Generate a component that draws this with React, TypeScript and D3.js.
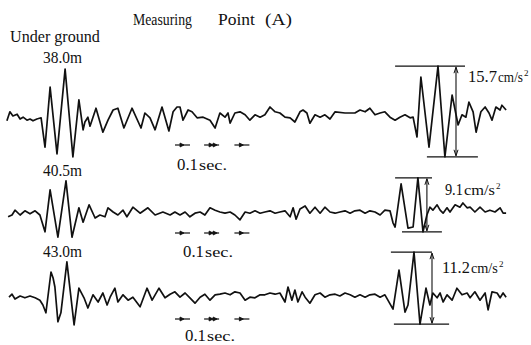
import * as d3 from 'd3';
import { useLayoutEffect, useRef } from 'react';

// time in ms, acceleration in gal (cm/s^2)
const trace1: [number, number][] = [
  [23, -0.8], [33, 0.7], [43, 0], [57, 0.3], [67, -0.5], [77, -0.2], [90, -0.7], [100, -0.5],
  [110, -0.8], [123, -0.5], [137, -0.3], [150, -5.2], [167, 4.8], [190, -6.3], [217, 7.8],
  [243, -6.8], [263, 2.7], [277, -2.3], [283, -1.0], [293, -0.2], [300, -1.7], [320, 1.3],
  [343, -2.7], [360, -0.7], [377, 1.0], [393, 1.3], [413, -2.0], [440, 1.3], [470, -2.0],
  [483, 0.5], [500, -0.3], [517, -2.3], [540, 1.5], [563, -2.5], [577, 0.7], [590, 1.5],
  [600, 1.5], [610, -0.7], [627, 1.0], [640, 0.7], [657, -0.3], [677, -0.2], [700, -0.7],
  [717, -2.0], [733, 0.5], [750, -0.2], [760, 0.5], [767, -1.2], [783, 0.5], [800, 0.7],
  [817, 0.2], [833, -0.7], [850, 0.2], [867, -0.2], [883, 0.2], [900, 1.5], [917, 0.7],
  [933, 0.5], [950, -0.2], [967, -0.3], [983, -1.0], [1000, 0.7], [1010, 1.0], [1023, 0.5],
  [1033, -1.2], [1050, 0.2], [1067, -0.2], [1083, 0.2], [1100, -0.5], [1117, 0.7], [1150, 0.5],
  [1183, 0.5], [1200, 1.0], [1217, 0.7], [1233, 1.3], [1250, 0.2], [1267, 0.5], [1283, 0.7],
  [1300, -0.2], [1317, -0.7], [1333, -0.2], [1350, 0.2], [1367, -0.3], [1377, -0.2],
  [1390, -3.5], [1403, 6.5], [1430, -5.2], [1460, 8.3], [1483, -6.8], [1507, 3.5], [1527, -1.5],
  [1540, 0.2], [1553, -0.2], [1563, 2.3], [1577, 0.7], [1587, -2.7], [1603, 0.7], [1617, 1.5],
  [1630, 0.5], [1640, -0.7], [1653, 1.5], [1667, 1.0], [1673, 1.8], [1687, 1.0],
];

const trace2: [number, number][] = [
  [27, -0.8], [40, -0.5], [50, 0.3], [67, -0.5], [83, 0.2], [100, -0.3], [117, 0.2], [133, -0.5],
  [150, -3.3], [167, 3.7], [193, -4.2], [220, 5.2], [240, -4.2], [263, 0.7], [277, -1.7],
  [297, 1.2], [317, -1.0], [333, -0.5], [350, -0.8], [360, 0.7], [377, 0], [393, -0.5],
  [410, 0.3], [423, -0.8], [443, 0.8], [467, -0.2], [493, 0.7], [517, -0.5], [543, 0],
  [567, -0.5], [583, 0], [600, -0.5], [617, 0], [633, -0.8], [650, -0.2], [667, 0], [683, -0.5],
  [700, 0.7], [717, 0.3], [733, 0], [750, -0.2], [767, 0], [783, -0.5], [800, -1.3], [817, 0],
  [833, -0.2], [850, 0.2], [867, -0.2], [883, 0], [900, 0.2], [917, -0.2], [933, 0], [950, 0.2],
  [967, -0.8], [977, 0.7], [987, -1.2], [1000, 0.5], [1017, 1.0], [1033, -0.2], [1050, 0.8],
  [1067, -0.2], [1083, 0.8], [1100, 0], [1117, -0.2], [1133, 0], [1150, 0.2], [1167, -0.2],
  [1183, 0.2], [1200, 0.3], [1217, -0.2], [1233, 0.2], [1250, 0], [1267, -0.5], [1283, 0.3],
  [1300, 0.2], [1310, -1.8], [1317, -2.5], [1337, 4.7], [1360, -2.7], [1377, -2.5], [1393, 5.7],
  [1410, -3.3], [1423, -0.5], [1433, 0.8], [1443, 0.3], [1457, 1.2], [1467, 0.3], [1477, -0.2],
  [1490, 0.7], [1500, 0], [1517, 1.2], [1533, 0.8], [1543, 1.5], [1557, 0.7], [1567, 0.8],
  [1583, 0], [1600, 0.8], [1617, 0], [1633, 0.3], [1650, 0], [1667, 0.7], [1677, -0.2], [1687, -0.2],
];

const trace3: [number, number][] = [
  [30, -0.2], [40, 0.3], [50, -0.5], [67, 0], [83, -0.3], [100, 0], [117, -0.3], [133, -0.7],
  [143, -1.5], [153, -2.8], [170, 4.0], [177, 3.0], [183, 1.5], [193, -4.3], [203, -2.8],
  [223, 5.7], [247, -4.8], [263, 1.3], [280, -0.3], [293, -2.0], [310, 0.2], [327, -1.0],
  [343, 0.5], [357, -1.5], [367, -0.2], [383, 1.3], [393, -1.0], [410, 0.2], [427, -0.7],
  [443, -0.2], [467, -1.8], [490, 1.3], [507, -0.7], [530, 1.3], [550, -0.3], [567, 0.3],
  [583, 0.7], [600, -0.2], [617, 0.5], [633, -0.3], [650, -1.2], [667, -0.2], [683, 0.3],
  [700, -0.7], [717, 0.2], [733, 0.3], [750, 0.5], [767, 0.2], [783, 0.7], [800, 0.5],
  [817, -0.7], [833, -0.2], [850, -0.3], [867, 0.2], [883, 0.2], [900, 0.5], [917, 0.3],
  [933, 0.5], [950, -1.0], [960, 1.5], [973, -0.7], [983, 1.0], [993, -1.0], [1007, 0.7],
  [1017, -0.2], [1033, -1.2], [1050, 0.2], [1067, 0.5], [1083, -0.2], [1100, 0.2], [1117, 0.3],
  [1133, 0], [1150, 0.5], [1167, 0.2], [1183, -0.2], [1200, 0.2], [1217, -0.2], [1233, 0.2],
  [1250, 0.3], [1267, -0.2], [1283, 0.2], [1293, -0.7], [1310, -2.2], [1330, 4.3], [1350, -2.7],
  [1360, -1.5], [1380, 7.3], [1400, -4.7], [1420, 1.3], [1433, -1.5], [1443, 0.5], [1457, -0.3],
  [1467, 0.5], [1477, -1.0], [1490, 0.2], [1507, -0.7], [1523, 1.3], [1540, 0.2], [1557, 0.5],
  [1567, -0.3], [1583, 0.7], [1600, -0.7], [1617, 0.5], [1627, -2.3], [1640, 0.7], [1657, 0.5],
  [1667, -0.3], [1677, 0.5], [1687, -0.2],
];

const depths = ['38.0m', '40.5m', '43.0m'];
const peakLabels = ['15.7', '9.1', '11.2'];
// 0.1 sec time marks (ms)
const timeMarks = [610, 707, 808];

// per-trace annotation placement, in ms / gal
const events = [
  { top: [1317, 1550], bottom: [1423, 1593], arrow: 1520, labelT: 1560, labelA: 5.7, numW: 29, unitW: 25 },
  { top: [1317, 1440], bottom: [1340, 1473], arrow: 1423, labelT: 1483, labelA: 2.8, numW: 18, unitW: 31 },
  { top: [1303, 1440], bottom: [1313, 1497], arrow: 1440, labelT: 1473, labelA: 3.8, numW: 28, unitW: 27 },
];

const rows = [
  { data: trace1, base: 116, depthY: 63, markY: 145, secY: 170, secX: 177 },
  { data: trace2, base: 212, depthY: 176, markY: 233, secY: 257, secX: 183 },
  { data: trace3, base: 296, depthY: 257, markY: 319, secY: 341, secX: 185 },
];

const W = 531;
const H = 345;
const font = '"Liberation Serif", "DejaVu Serif", serif';

// text squeezed horizontally to a given width, like the condensed scan lettering
function Fit({ x, y, w, size, children }: { x: number; y: number; w: number; size: number; children: string }) {
  const ref = useRef<SVGTextElement>(null);
  useLayoutEffect(() => {
    const el = ref.current;
    if (!el) return;
    const len = el.getComputedTextLength() || w;
    el.setAttribute('transform', `translate(${x},${y}) scale(${w / len},1)`);
  }, [x, y, w, size, children]);
  return (
    <text ref={ref} x={0} y={0} fontSize={size} transform={`translate(${x},${y})`}>
      {children}
    </text>
  );
}

export default function App() {
  const x = d3.scaleLinear().domain([0, 1700]).range([0, 510]);

  return (
    <svg width={W} height={H} style={{ position: 'absolute', left: 0, top: 0, background: '#fff' }}
      fontFamily={font} fill="#111">
      <rect width={W} height={H} fill="#fff" />
      <Fit x={133} y={25} w={59} size={17}>Measuring</Fit>
      <Fit x={218} y={25} w={37} size={17}>Point</Fit>
      <Fit x={265} y={25} w={27} size={17}>(A)</Fit>
      <Fit x={10} y={42} w={90} size={17}>Under ground</Fit>

      {rows.map((r, i) => {
        const y = d3.scaleLinear().domain([-10, 10]).range([r.base + 60, r.base - 60]);
        const line = d3.line<[number, number]>().x(d => x(d[0])).y(d => y(d[1]));
        const ev = events[i];
        const late = r.data.filter(d => d[0] > 1290);
        const yTop = y(d3.max(late, d => d[1]) as number);
        const yBot = y(d3.min(late, d => d[1]) as number);
        const ax = x(ev.arrow);
        const lx = x(ev.labelT);
        const ly = y(ev.labelA);
        return (
          <g key={i}>
            <path d={line(r.data) ?? ''} fill="none" stroke="#111" strokeWidth={1.7} strokeLinejoin="round" />
            <Fit x={43} y={r.depthY} w={39} size={16}>{depths[i]}</Fit>

            {/* amplitude annotation */}
            <line x1={x(ev.top[0])} x2={x(ev.top[1])} y1={yTop} y2={yTop} stroke="#111" strokeWidth={1.3} />
            <line x1={x(ev.bottom[0])} x2={x(ev.bottom[1])} y1={yBot} y2={yBot} stroke="#111" strokeWidth={1.3} />
            <line x1={ax} x2={ax} y1={yTop + 1} y2={yBot - 1} stroke="#111" strokeWidth={1.1} />
            <path d={`M${ax - 2},${yTop + 7} L${ax},${yTop + 1} L${ax + 2},${yTop + 7}`} fill="none" stroke="#111" strokeWidth={1} />
            <path d={`M${ax - 2},${yBot - 7} L${ax},${yBot - 1} L${ax + 2},${yBot - 7}`} fill="none" stroke="#111" strokeWidth={1} />
            <Fit x={lx} y={ly} w={ev.numW} size={16}>{peakLabels[i]}</Fit>
            <Fit x={lx + ev.numW + 1} y={ly} w={ev.unitW} size={15}>cm/s</Fit>
            <text x={lx + ev.numW + ev.unitW + 2} y={ly - 6} fontSize={9}>2</text>

            {/* 0.1 sec time marks */}
            {timeMarks.map((t, j) => {
              const cx = x(t);
              const my = r.markY;
              return (
                <g key={j} stroke="#111" strokeWidth={1.2}>
                  <line x1={cx - 8} x2={cx + 7} y1={my} y2={my} />
                  <path d={`M${cx - 3},${my - 2} L${cx + 1},${my} L${cx - 3},${my + 2}Z`} fill="#111" strokeWidth={0.8} />
                  {j === 1 && <path d={`M${cx + 1},${my - 2} L${cx + 5},${my} L${cx + 1},${my + 2}Z`} fill="#111" strokeWidth={0.8} />}
                </g>
              );
            })}
            <Fit x={r.secX} y={r.secY} w={21} size={16}>0.1</Fit>
            <Fit x={r.secX + 22} y={r.secY} w={28} size={15}>sec.</Fit>
          </g>
        );
      })}
    </svg>
  );
}
